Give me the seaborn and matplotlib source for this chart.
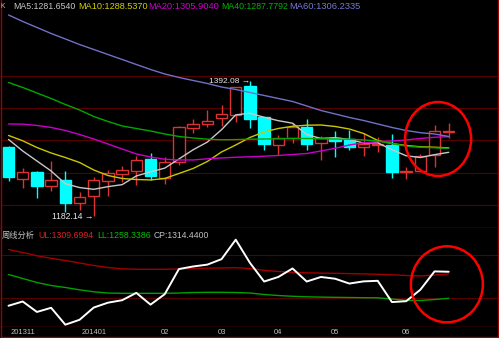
import matplotlib
matplotlib.use("Agg")
import matplotlib.pyplot as plt
import matplotlib.transforms as mtransforms
from matplotlib.patches import Ellipse
import seaborn as sns
import pandas as pd

# ---------------- data (weekly candles, 32 weeks) ----------------
weeks = list(range(32))
opens = [1289.9, 1240.3, 1250.7, 1229.9, 1238.8, 1202.6, 1214.0, 1237.2, 1247.6, 1252.2,
         1270.9, 1242.3, 1265.9, 1319.8, 1325.6, 1334.4, 1338.8, 1384.5, 1335.7, 1293.0,
         1303.9, 1321.4, 1295.7, 1304.3, 1301.9, 1289.5, 1293.0, 1293.0, 1250.7, 1252.7,
         1277.1, 1312.8]
closes = [1242.6, 1251.6, 1229.5, 1238.3, 1202.6, 1212.9, 1238.8, 1249.1, 1254.3, 1269.8,
          1245.0, 1267.1, 1320.2, 1325.6, 1329.5, 1341.1, 1382.2, 1333.3, 1293.8, 1303.4,
          1321.4, 1293.8, 1303.4, 1299.7, 1289.5, 1294.1, 1295.3, 1250.4, 1252.2, 1276.4,
          1315.2, 1314.44]
highs = [1291.0, 1258.1, 1253.2, 1268.2, 1252.7, 1220.2, 1242.9, 1254.3, 1259.7, 1275.2,
         1281.1, 1274.4, 1322.5, 1332.6, 1346.5, 1355.0, 1382.9, 1392.08, 1336.4, 1307.8,
         1326.7, 1332.6, 1307.0, 1314.0, 1315.5, 1311.2, 1305.9, 1309.3, 1258.9, 1279.8,
         1324.0, 1327.1]
lows = [1237.2, 1225.9, 1210.4, 1220.9, 1189.6, 1191.5, 1182.14, 1214.4, 1234.9, 1231.0,
        1238.3, 1232.6, 1262.0, 1311.6, 1320.9, 1322.5, 1328.7, 1319.4, 1285.3, 1277.5,
        1295.7, 1285.3, 1269.0, 1274.4, 1285.3, 1276.0, 1281.4, 1241.9, 1240.3, 1251.0,
        1258.4, 1304.6]

ma5 = [1301.6, 1283.7, 1268.2, 1252.7, 1232.9, 1227.0, 1224.3, 1228.4, 1231.5, 1245.0,
       1251.3, 1257.1, 1271.3, 1285.6, 1297.5, 1316.7, 1339.7, 1342.3, 1336.0, 1330.7,
       1326.8, 1309.2, 1303.1, 1304.3, 1301.6, 1296.1, 1296.4, 1285.7, 1276.3, 1273.6,
       1278.0, 1281.654]
ma10 = [1307.8, 1299.5, 1289.1, 1280.6, 1273.6, 1265.9, 1254.3, 1245.7, 1241.1, 1239.5,
        1238.8, 1241.1, 1248.8, 1256.6, 1267.4, 1282.2, 1293.0, 1304.7, 1313.2, 1318.6,
        1322.0, 1323.7, 1324.0, 1321.7, 1317.8, 1310.9, 1300.0, 1295.3, 1292.2, 1290.2,
        1289.5, 1288.537]
ma20 = [1325.6, 1325.3, 1323.3, 1320.2, 1315.5, 1309.3, 1302.3, 1294.6, 1286.8, 1279.1,
        1274.4, 1270.9, 1269.8, 1269.8, 1271.6, 1272.9, 1274.0, 1274.7, 1275.7, 1276.7,
        1278.3, 1279.8, 1283.7, 1287.9, 1293.0, 1296.4, 1298.1, 1299.2, 1300.8, 1303.1,
        1305.0, 1305.904]
ma40 = [1389.9, 1382.2, 1373.6, 1365.1, 1355.8, 1347.3, 1337.2, 1329.5, 1322.5, 1318.6,
        1314.7, 1310.1, 1306.2, 1303.9, 1302.0, 1301.1, 1301.4, 1302.0, 1302.3, 1302.6,
        1303.1, 1303.1, 1302.6, 1302.3, 1301.9, 1300.8, 1299.2, 1295.3, 1291.2, 1289.6,
        1288.7, 1287.7792]
ma60 = [1494.6, 1484.5, 1475.2, 1465.9, 1457.4, 1448.8, 1441.1, 1433.3, 1425.6, 1417.8,
        1410.1, 1403.1, 1397.7, 1393.0, 1388.4, 1382.9, 1379.1, 1374.4, 1369.8, 1365.1,
        1360.5, 1353.5, 1346.5, 1341.1, 1335.7, 1331.0, 1325.6, 1320.2, 1315.5, 1312.1,
        1310.1, 1306.2335]

ul = [1361.5, 1355.2, 1348.2, 1342.9, 1338.2, 1333.0, 1327.7, 1323.4, 1320.7, 1319.6,
      1319.6, 1319.6, 1320.3, 1321.3, 1322.0, 1322.4, 1323.0, 1321.3, 1317.5, 1315.0,
      1313.3, 1312.2, 1311.6, 1311.2, 1310.5, 1309.9, 1309.1, 1308.0, 1306.5, 1305.5,
      1307.6, 1309.6994]
ll = [1308.6, 1300.2, 1291.7, 1285.4, 1281.2, 1276.3, 1272.1, 1269.5, 1268.9, 1268.9,
      1268.9, 1268.9, 1269.5, 1270.6, 1271.0, 1271.0, 1270.6, 1269.5, 1266.4, 1264.2,
      1262.6, 1261.5, 1260.9, 1260.4, 1260.0, 1259.6, 1259.4, 1256.8, 1254.1, 1253.7,
      1255.8, 1258.3386]

tick_pos = [1, 6, 11, 15, 19, 23, 28]
tick_labels = ["201311", "201401", "02", "03", "04", "05", "06"]
main_grid = [1200, 1250, 1300, 1350, 1400]
low_grid = [1350, 1260]

# ---------------- style ----------------
sns.set_theme(style="dark")
plt.rcParams.update({
    "figure.facecolor": "black", "axes.facecolor": "black",
    "savefig.facecolor": "black", "axes.grid": False,
})
plt.rcParams["font.family"] = ["Liberation Sans", "DejaVu Sans"]

W, H = 499, 338
fig = plt.figure(figsize=(W / 100, H / 100), dpi=100)

def ax_rect(top_px, bot_px):
    return [1 / W, (H - bot_px) / H, 497 / W, (bot_px - top_px) / H]

ax = fig.add_axes(ax_rect(0, 228))
ax2 = fig.add_axes(ax_rect(228, 327), sharex=ax)
axb = fig.add_axes(ax_rect(327, 337), sharex=ax)

ax.set_xlim(-0.53, 34.47)
ax.set_ylim(1164.3, 1517.8)
ax2.set_ylim(1197.7, 1406.9)
axb.set_ylim(0, 1)

SP = "#a00000"
GRID = "#560000"
for g in main_grid:
    ax.axhline(g, color=GRID, lw=0.8, zorder=0)
for g in low_grid:
    ax2.axhline(g, color=GRID, lw=0.8, zorder=0)

# ---------------- candles ----------------
RED = "#dc3232"
CYAN = "#00ffff"
for i in weeks:
    o, c, h, l = opens[i], closes[i], highs[i], lows[i]
    up = c >= o
    col = RED if up else CYAN
    ax.vlines(i, l, h, color=col, lw=1.0, zorder=2)
    ax.bar(i, max(abs(c - o), 0.01), bottom=min(o, c), width=0.8,
           facecolor="black" if up else CYAN, edgecolor=col, lw=1.0, zorder=3)

# ---------------- moving averages ----------------
ma_df = pd.DataFrame({"week": weeks, "MA5": ma5, "MA10": ma10, "MA20": ma20,
                      "MA40": ma40, "MA60": ma60})
ma_colors = {"MA5": "#c8c8c8", "MA10": "#c8c800", "MA20": "#c800c8",
             "MA40": "#00a800", "MA60": "#7070c8"}
for name, col in ma_colors.items():
    sns.lineplot(data=ma_df, x="week", y=name, ax=ax, color=col, lw=1.0, zorder=4)

# ---------------- lower panel ----------------
low_df = pd.DataFrame({"week": weeks, "UL": ul, "LL": ll, "CP": closes})
sns.lineplot(data=low_df, x="week", y="UL", ax=ax2, color="#a00000", lw=1.0)
sns.lineplot(data=low_df, x="week", y="LL", ax=ax2, color="#00a000", lw=1.0)
sns.lineplot(data=low_df, x="week", y="CP", ax=ax2, color="white", lw=1.4)

for a in (ax, ax2, axb):
    a.set_xlabel(""); a.set_ylabel("")
    a.set_xticks([]); a.set_yticks([])
    a.tick_params(length=0)
    for s in a.spines.values():
        s.set_color(SP); s.set_linewidth(1.0)
    a.spines["top"].set_visible(False)

# ---------------- texts ----------------
fitted = []

def fit(t, target_px):
    fitted.append((t, target_px))
    return t

imax = highs.index(max(highs))
imin = lows.index(min(lows))
fit(ax.text(imax, highs[imax], f"{highs[imax]:.2f} →", ha="right", va="center",
            color="#e8e8e8", fontsize=7, zorder=6), 41)
fit(ax.text(imin, lows[imin], f"{lows[imin]:.2f} →", ha="right", va="center",
            color="#e8e8e8", fontsize=7, zorder=6), 41.5)

ax.add_patch(Ellipse((30.25, 1302.3), 4.65, 114.7, fill=False, edgecolor="#ff0000",
                     lw=1.8, zorder=7))
ax2.add_patch(Ellipse((30.87, 1287.9), 5.07, 160.7, fill=False, edgecolor="#ff0000",
                      lw=1.8, zorder=7, clip_on=False))

tb = mtransforms.blended_transform_factory(axb.transData, axb.transAxes)
lab_w = {"201311": 25, "201401": 25}
for p, lab in zip(tick_pos, tick_labels):
    t = axb.text(p, 0.45, lab, ha="center", va="center", color="#c0c0c0",
                 fontsize=6.5, transform=tb)
    fit(t, lab_w.get(lab, 8.5))

def ftext(xpx, ypx, s, col, target, family=None):
    kw = dict(color=col, fontsize=7.0, ha="left", va="center")
    if family:
        kw["family"] = family
    return fit(fig.text(xpx / W, 1 - ypx / H, s, **kw), target)

ftext(0.5, 6.7, "K", "#c0c0c0", 4.5)
ftext(13, 6.7, f"MA5:{ma5[-1]:.4f}", ma_colors["MA5"], 62)
ftext(78, 6.7, f"MA10:{ma10[-1]:.4f}", "#d0d000", 69)
ftext(148, 6.7, f"MA20:{ma20[-1]:.4f}", "#d000d0", 70)
ftext(221, 6.7, f"MA40:{ma40[-1]:.4f}", "#00b400", 66)
ftext(289, 6.7, f"MA60:{ma60[-1]:.4f}", "#7878d0", 71)

ftext(2, 235.5, "周线分析", "#c0c0c0", 33, family=["Noto Sans CJK SC", "DejaVu Sans"])
ftext(38, 235.5, f"UL:{ul[-1]:.4f}", "#e02020", 55)
ftext(97, 235.5, f"LL:{ll[-1]:.4f}", "#00c000", 53)
ftext(154, 235.5, f"CP:{closes[-1]:.4f}", "#c0c0c0", 55)

fig.canvas.draw()
r = fig.canvas.get_renderer()
for t, target in fitted:
    w = t.get_window_extent(r).width
    if w > 0:
        t.set_fontsize(t.get_fontsize() * target / w)

fig.savefig("out.png", dpi=100)
